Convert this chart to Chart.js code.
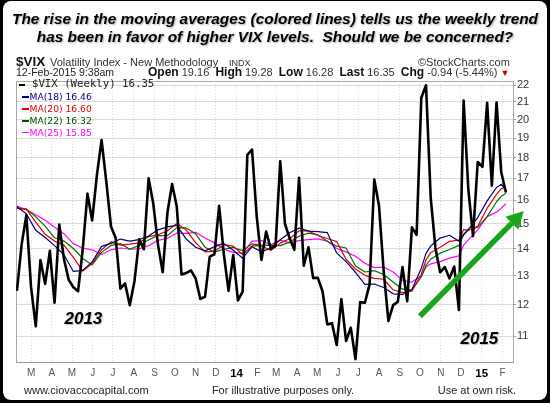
<!DOCTYPE html>
<html lang="en">
<head>
<meta charset="UTF-8">
<title>$VIX weekly with moving averages</title>
<script src="https://cdn.jsdelivr.net/npm/chart.js@4.4.0/dist/chart.umd.min.js"></script>
<style>
  html, body { margin: 0; padding: 0; background: #000; }
  #card { position: absolute; left: 3px; top: 1px; width: 544px; height: 399px; background: #fff; border-radius: 8px; }
  #chart { position: absolute; left: 0; top: 0; }
  .t { position: absolute; white-space: pre; font-family: "Liberation Sans", Arial, sans-serif; line-height: 1; color: #222; }
  #title { left: 0; width: 550px; top: 10px; text-align: center; font: italic bold 15.4px/18px "Liberation Sans", Arial, sans-serif; color: #000;
           text-shadow: 1px 1px 2px rgba(0,0,0,0.35); white-space: pre; position: absolute; }
  .yr { font-style: italic; font-weight: bold; font-size: 17px; color: #000; text-shadow: 1px 1px 1px rgba(0,0,0,0.25); }
  .dash { position: absolute; }
  .lg { font-family: "DejaVu Sans", Verdana, sans-serif; font-size: 9.2px; }
</style>
</head>
<body>
<div id="card"></div>
<canvas id="chart" width="550" height="403"></canvas>

<div id="title">The rise in the moving averages (colored lines) tells us the weekly trend
has been in favor of higher VIX levels.  Should we be concerned?</div>

<div class="t" style="left:16px;top:55px;font-size:13.5px;font-weight:bold;color:#111">$VIX</div>
<div class="t" style="left:50px;top:57px;font-size:11px;color:#333">Volatility Index - New Methodology</div>
<div class="t" style="left:229px;top:59px;font-size:9px;color:#333">INDX</div>
<div class="t" style="left:418px;top:57px;font-size:11px;color:#333">©StockCharts.com</div>

<div class="t" style="left:16px;top:67px;font-size:10.5px;color:#222">12-Feb-2015 9:38am</div>
<div class="t" style="left:148px;top:66px;font-size:11px;color:#333"><b style="font-size:12px;color:#111">Open</b> 19.16  <b style="font-size:12px;color:#111">High</b> 19.28  <b style="font-size:12px;color:#111">Low</b> 16.28  <b style="font-size:12px;color:#111">Last</b> 16.35  <b style="font-size:12px;color:#111">Chg</b> -0.94 (-5.44%) <span style="color:#c00;font-size:9px">▼</span></div>

<div class="dash" style="left:19px;top:84px;width:6px;height:2px;background:#000"></div>
<div class="t" style="left:32px;top:79px;font-family:'DejaVu Sans Mono',monospace;font-size:10.7px;color:#222">$VIX (Weekly) 16.35</div>
<div class="dash" style="left:22px;top:96px;width:7px;height:1.5px;background:#000080"></div>
<div class="t lg" style="left:29.5px;top:92px;color:#000080">MA(18) 16.46</div>
<div class="dash" style="left:22px;top:108px;width:7px;height:1.5px;background:#e00000"></div>
<div class="t lg" style="left:29.5px;top:104px;color:#e00000">MA(20) 16.60</div>
<div class="dash" style="left:22px;top:120px;width:7px;height:1.5px;background:#005000"></div>
<div class="t lg" style="left:29.5px;top:116px;color:#005000">MA(22) 16.32</div>
<div class="dash" style="left:22px;top:131.5px;width:7px;height:1.5px;background:#ff00ff"></div>
<div class="t lg" style="left:29.5px;top:127.5px;color:#ff00ff">MA(25) 15.85</div>

<div class="t yr" style="left:64.5px;top:309.5px">2013</div>
<div class="t yr" style="left:460.5px;top:329.5px">2015</div>

<div class="t" style="left:24px;top:384.5px;font-size:11px">www.ciovaccocapital.com</div>
<div class="t" style="left:183px;width:200px;text-align:center;top:384.5px;font-size:11px">For illustrative purposes only.</div>
<div class="t" style="left:0;width:516px;text-align:right;top:384.5px;font-size:11px">Use at own risk.</div>

<script>
// weekly closes, week ending 15-Feb-2013 ... 13-Feb-2015
var vix = [12.46, 14.17, 15.36, 12.59, 11.30, 13.57, 12.70, 13.92, 12.06, 14.97,
           13.61, 12.85, 12.59, 12.45, 13.99, 16.30, 15.14, 17.15, 18.90, 16.86,
           14.89, 14.42, 12.54, 12.72, 11.98, 12.81, 14.37, 13.98, 17.01, 15.85,
           14.16, 13.12, 15.46, 16.74, 15.72, 13.04, 13.09, 13.19, 12.90, 12.19,
           12.26, 13.70, 13.79, 15.76, 13.79, 12.46, 13.76, 12.14, 12.44, 18.14,
           18.41, 15.29, 13.57, 14.68, 14.00, 14.11, 17.82, 15.00, 14.41, 13.96,
           17.03, 13.36, 14.06, 12.91, 12.92, 12.44, 11.36, 11.40, 10.73, 12.18,
           10.85, 11.26, 10.32, 12.08, 12.06, 12.69, 16.95, 15.77, 13.15, 11.47,
           11.98, 12.09, 13.31, 12.11, 14.85, 14.55, 21.24, 21.99, 16.11, 14.03,
           13.12, 13.31, 12.90, 13.33, 11.82, 21.08, 16.49, 14.50, 17.79, 17.55,
           20.95, 16.66, 20.97, 17.29, 16.35];

// week numbers where the moving averages were read
var maWeeks = [0, 2, 4, 6, 8, 10, 12, 14, 16, 18,
               20, 22, 24, 26, 28, 30, 32, 34, 36, 38,
               40, 42, 44, 46, 48, 50, 52, 54, 56, 58,
               60, 62, 64, 66, 68, 70, 72, 74, 76, 78,
               80, 82, 84, 86, 87, 88, 90, 92, 94, 95, 96, 98, 100, 102, 103, 104];

var ma18 = [15.72, 15.42, 14.73, 14.44, 14.12, 13.77, 13.15, 13.19, 13.50, 14.09,
            14.21, 14.38, 14.30, 14.36, 14.50, 14.75, 14.87, 14.93, 14.38, 14.06,
            13.92, 14.08, 14.21, 13.94, 13.64, 14.08, 13.88, 14.03, 14.35, 14.63,
            14.82, 14.70, 14.68, 14.64, 13.84, 13.51, 13.12, 12.69, 12.70, 12.58,
            12.36, 12.34, 12.51, 13.27, 13.82, 14.11, 14.42, 14.53, 14.29, 14.58, 14.77, 15.26, 15.98, 16.58, 16.73, 16.46];
var ma20 = [15.65, 15.62, 15.07, 14.57, 14.30, 14.14, 13.67, 13.16, 13.44, 13.96,
            14.27, 14.14, 14.18, 14.23, 14.48, 14.55, 14.71, 15.01, 14.74, 14.24,
            13.88, 13.90, 14.15, 14.10, 13.78, 14.11, 14.12, 13.93, 14.22, 14.39,
            14.71, 14.71, 14.52, 14.40, 14.28, 13.60, 13.24, 13.01, 12.90, 12.87,
            12.50, 12.40, 12.45, 13.05, 13.58, 13.85, 14.06, 14.29, 14.34, 14.76, 14.74, 14.90, 15.66, 16.27, 16.53, 16.60];
var ma22 = [15.65, 15.62, 15.29, 14.90, 14.43, 14.30, 14.01, 13.63, 13.39, 13.86,
            14.13, 14.20, 13.98, 14.13, 14.34, 14.52, 14.52, 14.84, 14.83, 14.59,
            14.06, 13.87, 13.98, 14.05, 13.93, 14.19, 14.13, 14.14, 14.12, 14.26,
            14.49, 14.62, 14.55, 14.29, 14.10, 14.03, 13.35, 13.13, 13.18, 13.04,
            12.77, 12.52, 12.49, 12.95, 13.38, 13.60, 13.83, 13.97, 14.13, 14.54, 14.74, 14.86, 15.30, 15.94, 16.18, 16.32];
var ma25 = [15.75, 15.60, 15.38, 15.15, 14.86, 14.59, 14.20, 14.02, 13.96, 13.78,
            13.96, 14.03, 13.98, 14.00, 14.12, 14.33, 14.41, 14.62, 14.61, 14.65,
            14.42, 14.23, 13.98, 13.86, 13.83, 14.30, 14.32, 14.15, 14.34, 14.23,
            14.32, 14.36, 14.39, 14.30, 14.01, 13.88, 13.71, 13.45, 13.29, 13.31,
            13.13, 12.83, 12.77, 12.99, 13.31, 13.43, 13.51, 13.64, 13.73, 14.14, 14.35, 14.75, 15.30, 15.49, 15.66, 15.85];

var monthTicks = ['2013-03', '2013-04', '2013-05', '2013-06', '2013-07', '2013-08', '2013-09', '2013-10', '2013-11', '2013-12',
                  '2014-01', '2014-02', '2014-03', '2014-04', '2014-05', '2014-06', '2014-07', '2014-08', '2014-09', '2014-10',
                  '2014-11', '2014-12', '2015-01', '2015-02'];
var monthLabels = ['M', 'A', 'M', 'J', 'J', 'A', 'S', 'O', 'N', 'D', '14', 'F', 'M', 'A', 'M', 'J', 'J', 'A', 'S', 'O', 'N', 'D', '15', 'F'];
var yTicks = [11, 12, 13, 14, 15, 16, 17, 18, 19, 20, 21, 22];

// the green arrow, in (week, value)
var arrowFrom = [85.7, 11.62];
var arrowTo = [107.8, 15.54];

var FONT = '"Liberation Sans", Arial, sans-serif';
var WEEK = 7 * 24 * 3600 * 1000;
var gridOrigin = Date.parse('2013-02-08');
var monthPos = monthTicks.map(function (m) { return (Date.parse(m + '-01') - gridOrigin) / WEEK; });

function pts(xs, ys) { return ys.map(function (v, i) { return {x: xs[i], y: v}; }); }
var idx = vix.map(function (v, i) { return i; });

var frame = {
    id: 'frame',
    beforeDatasetsDraw: function (chart) {
        var ctx = chart.ctx, a = chart.chartArea;
        ctx.save();
        ctx.strokeStyle = '#a8a8a8';
        ctx.lineWidth = 1;
        ctx.beginPath();
        ctx.moveTo(a.left + 0.5, a.bottom);
        ctx.lineTo(a.left + 0.5, a.top + 0.5);
        ctx.lineTo(a.right, a.top + 0.5);
        ctx.stroke();
        ctx.restore();
    },
    afterDraw: function (chart) {
        var ctx = chart.ctx, sx = chart.scales.x, sy = chart.scales.y;
        var x0 = sx.getPixelForValue(arrowFrom[0]), y0 = sy.getPixelForValue(arrowFrom[1]);
        var x1 = sx.getPixelForValue(arrowTo[0]), y1 = sy.getPixelForValue(arrowTo[1]);
        var ang = Math.atan2(y1 - y0, x1 - x0);
        var hl = 17, hw = 9;
        var bx = x1 - hl * Math.cos(ang), by = y1 - hl * Math.sin(ang);
        ctx.save();
        ctx.strokeStyle = '#19a519';
        ctx.fillStyle = '#19a519';
        ctx.lineWidth = 5.5;
        ctx.beginPath();
        ctx.moveTo(x0, y0);
        ctx.lineTo(bx, by);
        ctx.stroke();
        ctx.beginPath();
        ctx.moveTo(x1, y1);
        ctx.lineTo(bx + hw * Math.sin(ang), by - hw * Math.cos(ang));
        ctx.lineTo(bx - hw * Math.sin(ang), by + hw * Math.cos(ang));
        ctx.closePath();
        ctx.fill();
        ctx.restore();
    }
};

new Chart(document.getElementById('chart'), {
    type: 'line',
    data: {
        datasets: [
            {label: '$VIX (Weekly)', data: pts(idx, vix), borderColor: '#000', borderWidth: 2.6},
            {label: 'MA(18)', data: pts(maWeeks, ma18), borderColor: '#000080', borderWidth: 1.2},
            {label: 'MA(20)', data: pts(maWeeks, ma20), borderColor: '#e00000', borderWidth: 1.2},
            {label: 'MA(22)', data: pts(maWeeks, ma22), borderColor: '#007000', borderWidth: 1.2},
            {label: 'MA(25)', data: pts(maWeeks, ma25), borderColor: '#ff00ff', borderWidth: 1.2}
        ]
    },
    options: {
        responsive: false,
        animation: false,
        events: [],
        elements: {point: {radius: 0}, line: {tension: 0, borderJoinStyle: 'round'}},
        layout: {padding: {left: 16, top: 81, right: 0, bottom: 21}},
        plugins: {legend: {display: false}, title: {display: false}, tooltip: {enabled: false}},
        scales: {
            x: {
                type: 'linear', bounds: 'data', min: -0.2, max: 105.5,
                afterBuildTicks: function (s) { s.ticks = monthPos.map(function (v) { return {value: v}; }); },
                afterFit: function (s) { s.height = 20; },
                grid: {color: '#dcdcdc', drawTicks: false},
                border: {display: true, color: '#999', dash: [1, 2]},
                ticks: {
                    autoSkip: false, maxRotation: 0, padding: 5,
                    callback: function (v, i) { return monthLabels[i]; },
                    font: function (c) {
                        var yr = /\d/.test(monthLabels[c.index] || '');
                        return {family: FONT, size: yr ? 11.5 : 10, weight: yr ? 'bold' : 'normal'};
                    },
                    color: function (c) { return /\d/.test(monthLabels[c.index] || '') ? '#000' : '#555'; }
                }
            },
            y: {
                type: 'logarithmic', position: 'right', bounds: 'data', min: 10.24, max: 22.25,
                afterBuildTicks: function (s) { s.ticks = yTicks.map(function (v) { return {value: v}; }); },
                afterFit: function (s) { s.width = 37; },
                grid: {color: '#dcdcdc', tickLength: 3, tickColor: '#999'},
                border: {display: true, color: '#a8a8a8'},
                ticks: {padding: 1, color: '#333', font: {family: FONT, size: 11},
                        callback: function (v) { return String(v); }}
            }
        }
    },
    plugins: [frame]
});
</script>
</body>
</html>
